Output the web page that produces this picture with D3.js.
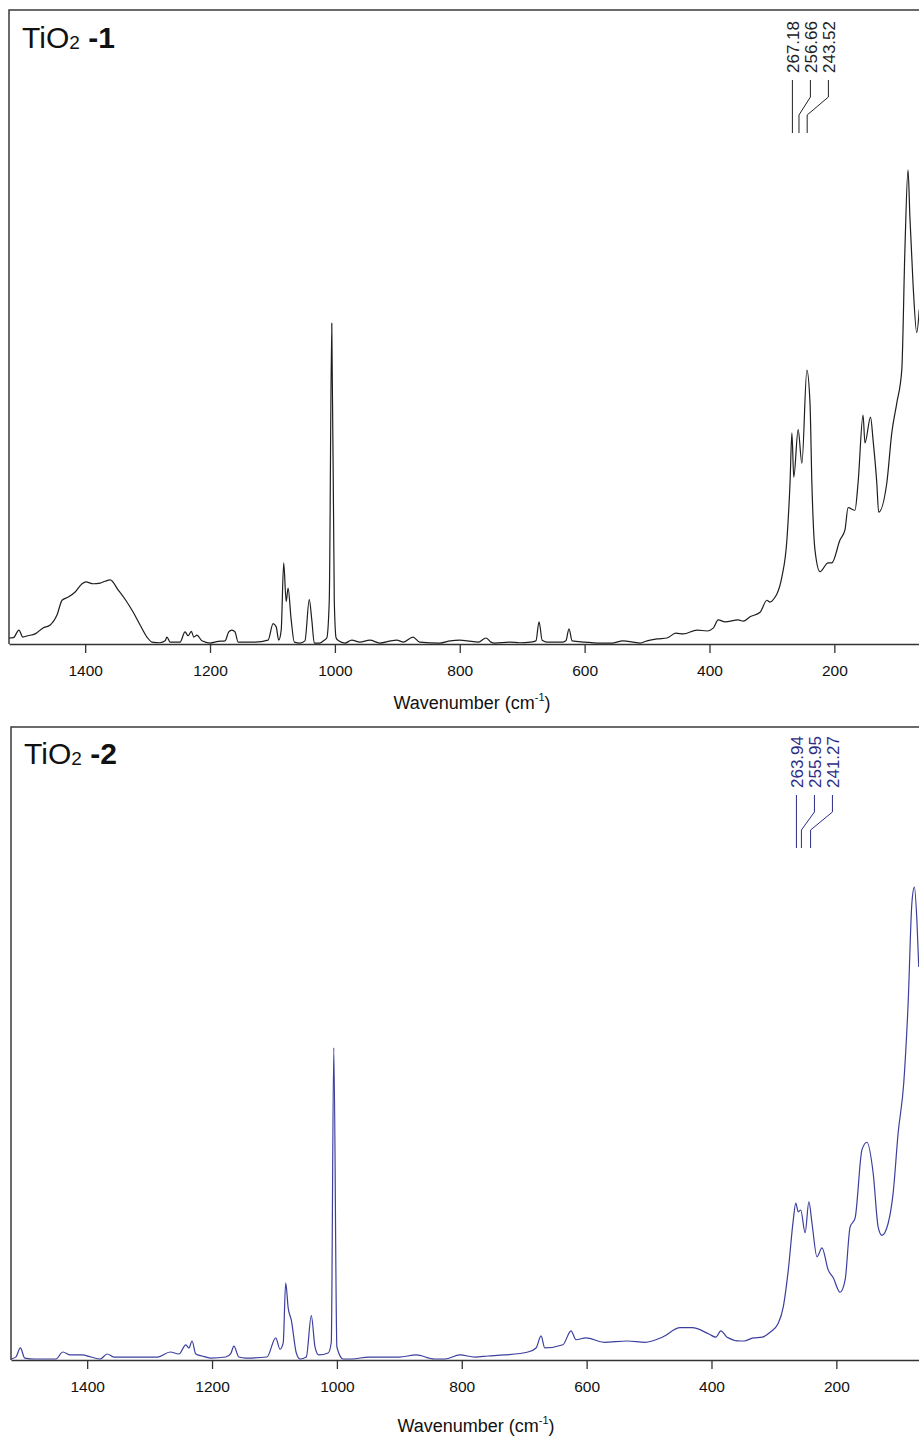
<!DOCTYPE html>
<style>
  body { margin: 0; background: #fff; }
  svg { display: block; font-family: "Liberation Sans", Arial, sans-serif; }
  .axis .tick line { stroke: #333; stroke-width: 1.3; }
  .axis .domain { stroke: #333; stroke-width: 1.5; }
  .axis text { font-size: 15.5px; fill: #111; }
</style>
<svg width="919" height="1443"></svg>
<script src="https://d3js.org/d3.v7.min.js"></script>
<script>

// Raman spectra: [wavenumber (cm-1), intensity (a.u.)]
var spec1 = [
  [1522,0.95],[1515,1.0],[1506,2.2],[1500,1.1],[1492,1.3],[1480,1.6],[1468,2.5],[1456,3.0],
  [1445,4.6],[1437,6.9],[1427,7.4],[1416,8.2],[1405,9.5],[1399,9.8],[1387,9.5],[1376,9.6],
  [1368,9.9],[1360,10.1],[1347,8.5],[1335,6.9],[1323,5.0],[1312,3.0],[1301,1.1],[1293,0.3],
  [1280,0.2],[1272,0.5],[1269,1.1],[1264,0.3],[1248,0.3],[1240,1.9],[1235,1.3],[1230,2.0],
  [1226,1.1],[1221,1.4],[1213,0.5],[1200,0.15],[1187,0.4],[1176,0.5],[1170,1.9],[1165,2.2],
  [1160,1.9],[1155,0.3],[1128,0.3],[1107,0.6],[1099,3.2],[1094,2.7],[1090,0.6],[1086,2.2],
  [1082,12.8],[1078,6.7],[1075,8.8],[1070,3.8],[1065,0.3],[1056,0.15],[1048,0.5],[1041,7.0],
  [1037,3.8],[1033,0.15],[1024,0.15],[1017,0.6],[1013,0.95],[1009,6.9],[1005,50.6],[1001,6.9],
  [998,0.95],[994,0.5],[984,0.15],[973,0.6],[960,0.3],[944,0.6],[928,0.15],[910,0.5],
  [901,0.6],[890,0.3],[875,1.1],[864,0.3],[832,0.15],[815,0.5],[800,0.6],[788,0.5],
  [770,0.3],[758,0.95],[750,0.3],[744,0.15],[720,0.3],[704,0.2],[687,0.3],[678,0.5],
  [673,3.5],[668,0.6],[660,0.3],[635,0.3],[630,0.5],[625,2.4],[620,0.5],[599,0.3],
  [580,0.15],[555,0.15],[539,0.5],[511,0.15],[500,0.5],[484,0.8],[468,0.95],[454,1.7],
  [442,1.6],[420,2.2],[404,2.05],[394,2.5],[386,3.8],[375,3.5],[354,3.8],[346,3.6],
  [335,4.3],[319,5.0],[308,6.9],[303,6.6],[295,7.4],[292,7.9],[284,10.6],[276,16.4],
  [271,25.4],[268,33.3],[265,26.3],[258,33.8],[252,28.5],[244,43.2],[239,38.0],[236,25.4],
  [231,14.8],[223,11.4],[210,12.8],[204,12.8],[191,16.4],[183,18.0],[178,21.5],[167,21.1],
  [162,25.4],[154,36.1],[151,31.7],[142,35.8],[138,32.2],[132,25.4],[129,20.8],[116,25.4],
  [108,33.3],[100,38.0],[92,43.2],[87,62.1],[82,74.8],[79,67.4],[74,56.9],[68,49.1],[64,52.7]
];

var spec2 = [
  [1522,0.16],[1514,0.5],[1507,1.9],[1500,0.3],[1484,0.16],[1450,0.16],[1439,1.26],[1427,0.8],
  [1408,0.8],[1394,0.47],[1379,0.16],[1368,0.95],[1357,0.47],[1323,0.47],[1287,0.47],[1267,1.26],
  [1253,0.95],[1242,2.4],[1237,1.9],[1232,3.0],[1226,0.95],[1216,0.63],[1202,0.3],[1178,0.47],
  [1170,1.0],[1165,2.2],[1157,0.47],[1146,0.3],[1112,0.47],[1098,3.5],[1091,1.7],[1086,2.7],
  [1082,12.2],[1078,8.2],[1073,6.3],[1065,1.1],[1059,0.16],[1049,0.47],[1041,7.0],[1035,2.05],
  [1029,0.8],[1014,1.1],[1009,2.8],[1005,49.3],[1000,2.05],[990,0.16],[976,0.16],[949,0.47],
  [900,0.47],[873,0.8],[844,0.16],[827,0.16],[803,0.8],[779,0.47],[758,0.63],[732,0.8],
  [694,1.26],[681,1.9],[673,3.8],[667,1.9],[638,2.4],[625,4.6],[617,3.2],[601,3.5],
  [572,2.8],[535,3.0],[506,2.8],[479,3.6],[450,5.1],[431,5.1],[404,4.1],[393,3.6],
  [385,4.6],[375,3.6],[354,3.0],[348,3.0],[333,3.5],[319,3.6],[306,4.4],[293,5.8],
  [285,8.4],[277,14.2],[269,22.1],[265,24.8],[261,23.4],[257,23.7],[250,20.1],[244,25.0],
  [239,21.6],[231,16.3],[223,17.7],[213,14.2],[205,13.0],[194,10.7],[186,12.6],[178,21.0],
  [170,22.4],[159,33.2],[151,34.4],[141,29.5],[133,21.0],[127,19.7],[117,21.6],[109,26.4],
  [101,35.9],[92,43.8],[85,56.4],[79,72.2],[75,74.7],[71,69.5],[68,62.1]
];

var tickValues = [1400, 1200, 1000, 800, 600, 400, 200];
var peaks1 = [267.18, 256.66, 243.52];
var peaks2 = [263.94, 255.95, 241.27];
var sampleNames = ["-1", "-2"];

var svg = d3.select("svg");

var panels = [
  {data: spec1, peaks: peaks1, name: sampleNames[0], line: "#1e1e1e", ink: "#222",
   left: 9, top: 10, bottom: 644, titleY: 48, labelBase: 73, xTitleY: 709, xTitleX: 472},
  {data: spec2, peaks: peaks2, name: sampleNames[1], line: "#3c3f9e", ink: "#2d2d86",
   left: 11, top: 727, bottom: 1360, titleY: 764, labelBase: 788, xTitleY: 1432, xTitleX: 476}
];

panels.forEach(function(p, idx) {
  var x = d3.scaleLinear().domain([1522, 58]).range([p.left, p.left + 914]);
  var y = d3.scaleLinear().domain([0, 100]).range([p.bottom, p.top]);

  var g = svg.append("g");

  // frame (right side runs off the picture)
  g.append("path")
    .attr("d", "M" + (p.left + 930) + "," + p.top + "H" + p.left + "V" + p.bottom)
    .attr("fill", "none")
    .attr("stroke", "#3a3a3a")
    .attr("stroke-width", 1.5);

  g.append("defs").append("clipPath").attr("id", "clip" + idx)
    .append("rect").attr("x", p.left).attr("y", p.top).attr("width", 930).attr("height", p.bottom - p.top);

  var line = d3.line()
    .x(function(d) { return x(d[0]); })
    .y(function(d) { return y(d[1]); })
    .curve(d3.curveMonotoneX);

  g.append("path")
    .datum(p.data)
    .attr("clip-path", "url(#clip" + idx + ")")
    .attr("fill", "none")
    .attr("stroke", p.line)
    .attr("stroke-width", 1.2)
    .attr("stroke-linejoin", "round")
    .attr("d", line);

  g.append("g")
    .attr("class", "axis")
    .attr("transform", "translate(0," + p.bottom + ")")
    .call(d3.axisBottom(x).tickValues(tickValues).tickSize(9).tickSizeOuter(0).tickPadding(12).tickFormat(d3.format("d")));

  // sample title
  var t = g.append("text")
    .attr("x", p.left + 13)
    .attr("y", p.titleY)
    .attr("font-size", 30)
    .attr("fill", "#111");
  t.append("tspan").text("TiO");
  t.append("tspan").attr("font-size", 19).attr("dy", 1).text("2");
  t.append("tspan").attr("dy", -1).text(" ");
  t.append("tspan").attr("font-weight", "bold").text(p.name);

  // x axis title
  var xt = g.append("text")
    .attr("x", p.xTitleX)
    .attr("y", p.xTitleY)
    .attr("text-anchor", "middle")
    .attr("font-size", 18)
    .attr("fill", "#111");
  xt.append("tspan").text("Wavenumber (cm");
  xt.append("tspan").attr("font-size", 11).attr("dy", -8).text("-1");
  xt.append("tspan").attr("dy", 8).text(")");

  // peak labels with leader lines
  var x0 = x(p.peaks[0]);
  var lab = g.append("g").selectAll("g").data(p.peaks).enter().append("g");

  lab.append("text")
    .attr("transform", function(d, i) { return "translate(" + (x0 + i * 18) + "," + p.labelBase + ") rotate(-90)"; })
    .attr("dy", "0.36em")
    .attr("font-size", 17)
    .attr("fill", p.ink)
    .text(function(d) { return d.toFixed(2); });

  lab.append("path")
    .attr("d", function(d, i) {
      var lx = x0 + i * 18, px = x(d), y0 = p.labelBase + 7;
      return "M" + lx + "," + y0 + "V" + (y0 + 17) + "L" + px + "," + (y0 + 35) + "V" + (y0 + 53);
    })
    .attr("fill", "none")
    .attr("stroke", p.ink)
    .attr("stroke-width", 1);
});

</script>
